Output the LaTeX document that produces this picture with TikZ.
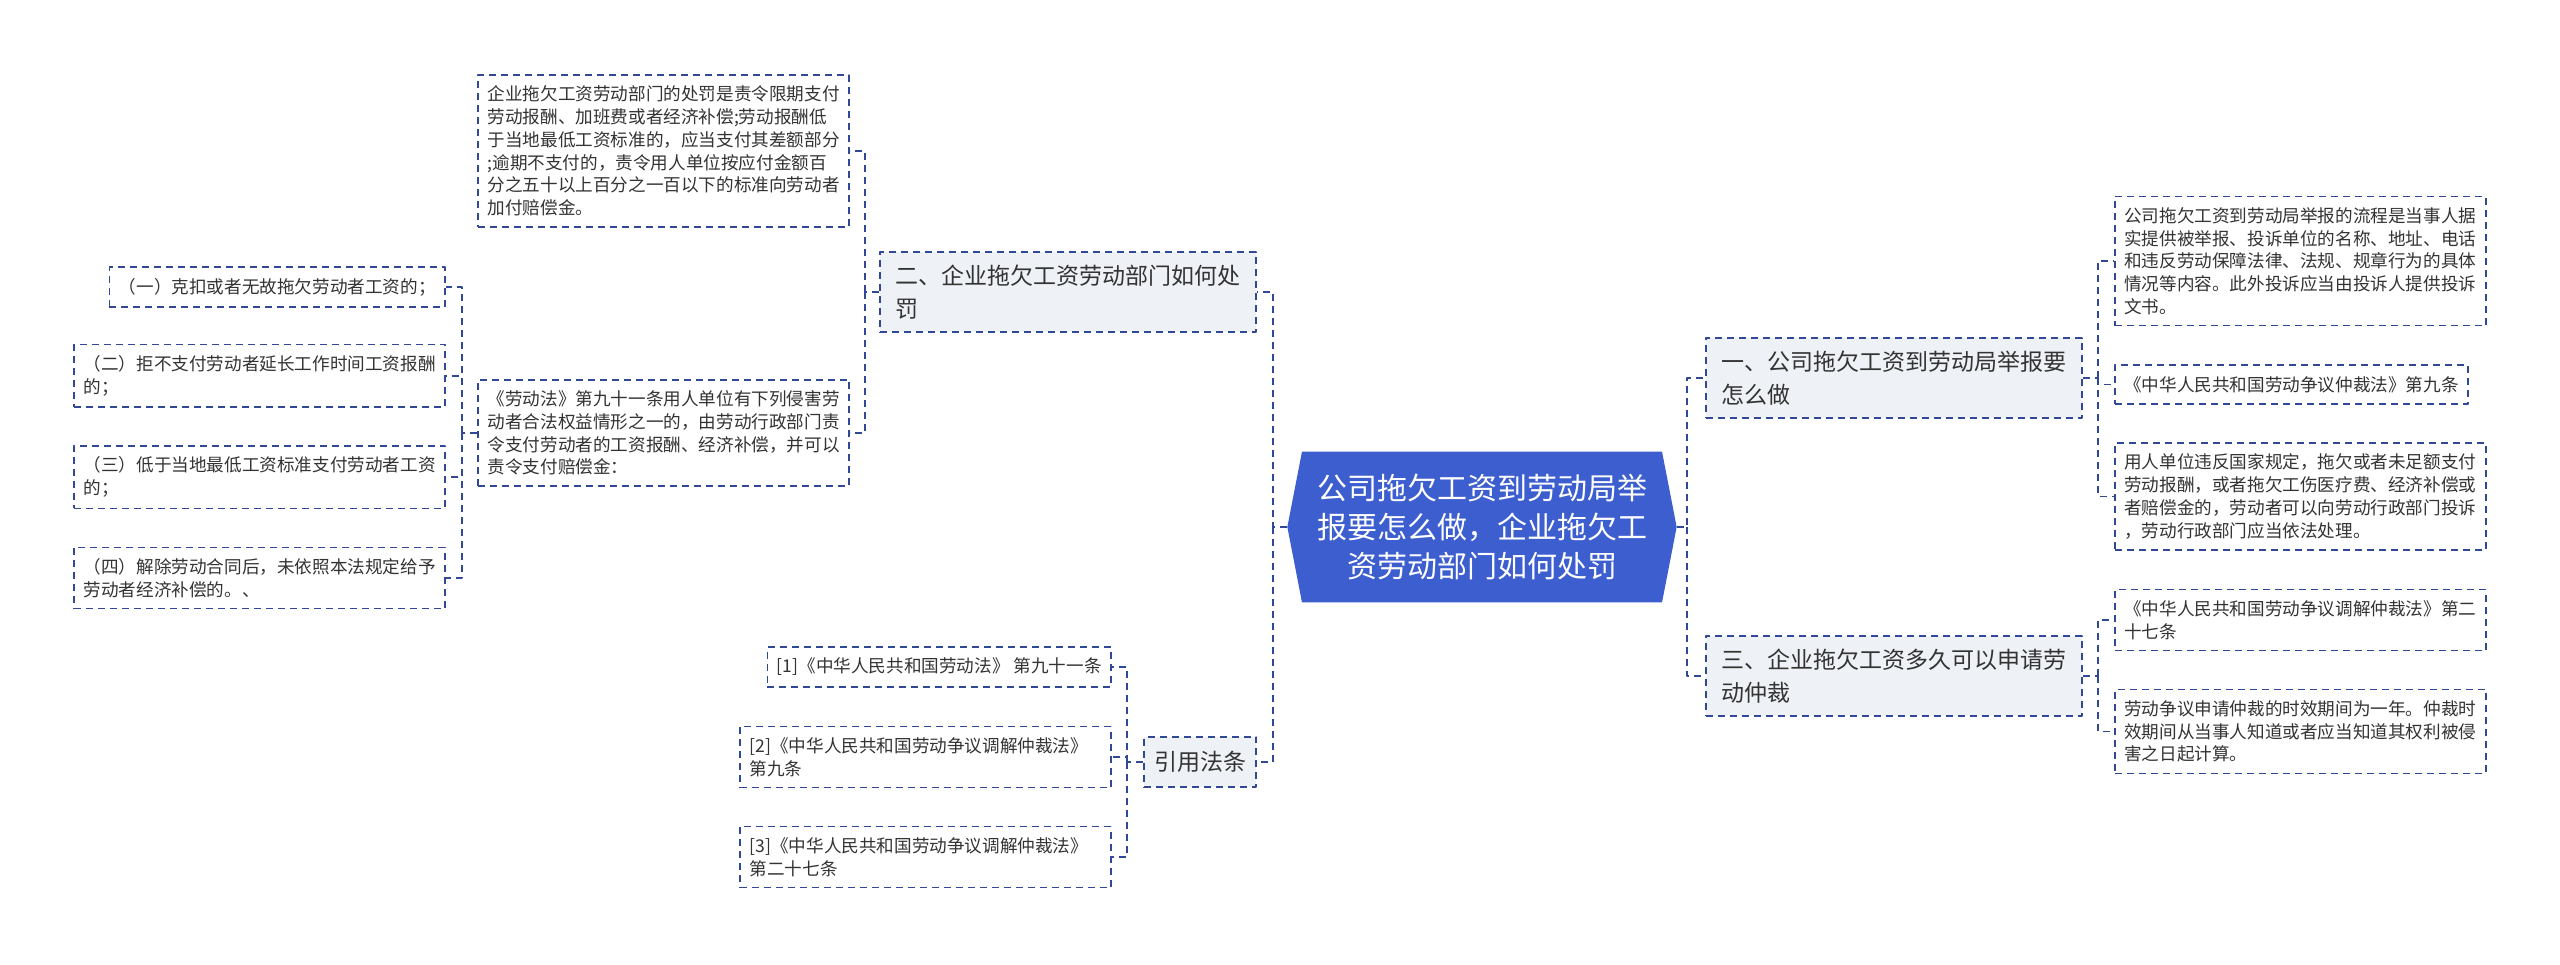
\documentclass[tikz,border=0pt]{standalone}
\usepackage{fontspec}
\setmainfont{Noto Sans CJK SC}
\usetikzlibrary{shapes.symbols}
\definecolor{lineblue}{RGB}{48,72,150}
\definecolor{rootblue}{RGB}{61,94,207}
\definecolor{secgray}{RGB}{238,241,245}
\definecolor{txtgray}{RGB}{51,51,51}
\begin{document}
\begin{tikzpicture}[x=1pt, y=-1pt, line join=round,
		link/.style={draw=lineblue, line width=1.6pt, dash pattern=on 7pt off 5pt},
		leaf/.style={link, fill=white, text=txtgray, align=left, inner xsep=9.5pt, inner ysep=11pt, font=\fontsize{17.6}{22.7}\selectfont},
		sect/.style={leaf, fill=secgray, inner xsep=15.5pt, inner ysep=13pt, font=\fontsize{23}{33}\selectfont},
		root/.style={shape=signal, signal to=east and west, signal pointer angle=158, fill=rootblue, text=white, align=center, inner xsep=15pt, inner ysep=22.5pt, font=\fontsize{30}{39}\selectfont}]
	\useasboundingbox (0,0) rectangle (2560,965);
	% centre
	\node[root] (root) at (1482,527) {公司拖欠工资到劳动局举\\报要怎么做，企业拖欠工\\资劳动部门如何处罚};
	% right side
	\node[sect, anchor=west] (s1) at (1705,378) {一、公司拖欠工资到劳动局举报要\\怎么做};
	\node[sect, anchor=west] (s3) at (1705,676) {三、企业拖欠工资多久可以申请劳\\动仲裁};
	\node[leaf, anchor=west] (r1) at (2114,261) {公司拖欠工资到劳动局举报的流程是当事人据\\实提供被举报、投诉单位的名称、地址、电话\\和违反劳动保障法律、法规、规章行为的具体\\情况等内容。此外投诉应当由投诉人提供投诉\\文书。};
	\node[leaf, anchor=west] (r2) at (2114,384.5) {《中华人民共和国劳动争议仲裁法》第九条};
	\node[leaf, anchor=west] (r3) at (2114,496.5) {用人单位违反国家规定，拖欠或者未足额支付\\劳动报酬，或者拖欠工伤医疗费、经济补偿或\\者赔偿金的，劳动者可以向劳动行政部门投诉\\，劳动行政部门应当依法处理。};
	\node[leaf, anchor=west] (t1) at (2114,620) {《中华人民共和国劳动争议调解仲裁法》第二\\十七条};
	\node[leaf, anchor=west] (t2) at (2114,731.5) {劳动争议申请仲裁的时效期间为一年。仲裁时\\效期间从当事人知道或者应当知道其权利被侵\\害之日起计算。};
	% left side
	\node[sect, anchor=east] (s2) at (1257,292) {二、企业拖欠工资劳动部门如何处\\罚};
	\node[sect, anchor=east, inner xsep=10pt, inner ysep=14.5pt] (cite) at (1257,762) {引用法条};
	\node[leaf, anchor=east] (p1) at (850,151) {企业拖欠工资劳动部门的处罚是责令限期支付\\劳动报酬、加班费或者经济补偿;劳动报酬低\\于当地最低工资标准的，应当支付其差额部分\\;逾期不支付的，责令用人单位按应付金额百\\分之五十以上百分之一百以下的标准向劳动者\\加付赔偿金。};
	\node[leaf, anchor=east] (p2) at (850,433) {《劳动法》第九十一条用人单位有下列侵害劳\\动者合法权益情形之一的，由劳动行政部门责\\令支付劳动者的工资报酬、经济补偿，并可以\\责令支付赔偿金：};
	\node[leaf, anchor=east] (c1) at (446,287) {（一）克扣或者无故拖欠劳动者工资的；};
	\node[leaf, anchor=east] (c2) at (446,376) {（二）拒不支付劳动者延长工作时间工资报酬\\的；};
	\node[leaf, anchor=east] (c3) at (446,477) {（三）低于当地最低工资标准支付劳动者工资\\的；};
	\node[leaf, anchor=east] (c4) at (446,578) {（四）解除劳动合同后，未依照本法规定给予\\劳动者经济补偿的。、};
	\node[leaf, anchor=east] (k1) at (1112,667) {[1]《中华人民共和国劳动法》 第九十一条};
	\node[leaf, anchor=east, text width=352pt] (k2) at (1112,757) {[2]《中华人民共和国劳动争议调解仲裁法》\\第九条};
	\node[leaf, anchor=east, text width=352pt] (k3) at (1112,857) {[3]《中华人民共和国劳动争议调解仲裁法》\\第二十七条};
	% connectors
	\coordinate (rt) at (1687,527);
	\coordinate (s1t) at (2098,378);
	\coordinate (s3t) at (2098,676);
	\coordinate (lt) at (1273,527);
	\coordinate (s2t) at (865,292);
	\coordinate (p2t) at (462,433);
	\coordinate (ct) at (1127,762);
	\draw[link] (root.east) -- (rt) |- (s1.west);
	\draw[link] (rt) |- (s3.west);
	\draw[link] (s1.east) -- (s1t);
	\draw[link] (s3.east) -- (s3t);
	\foreach \n in {r1,r2,r3} \draw[link] (s1t) |- (\n.west);
	\foreach \n in {t1,t2} \draw[link] (s3t) |- (\n.west);
	\draw[link] (root.west) -- (lt) |- (s2.east);
	\draw[link] (lt) |- (cite.east);
	\draw[link] (s2.west) -- (s2t);
	\draw[link] (p2.west) -- (p2t);
	\draw[link] (cite.west) -- (ct);
	\foreach \n in {p1,p2} \draw[link] (s2t) |- (\n.east);
	\foreach \n in {c1,c2,c3,c4} \draw[link] (p2t) |- (\n.east);
	\foreach \n in {k1,k2,k3} \draw[link] (ct) |- (\n.east);
\end{tikzpicture}
\end{document}
